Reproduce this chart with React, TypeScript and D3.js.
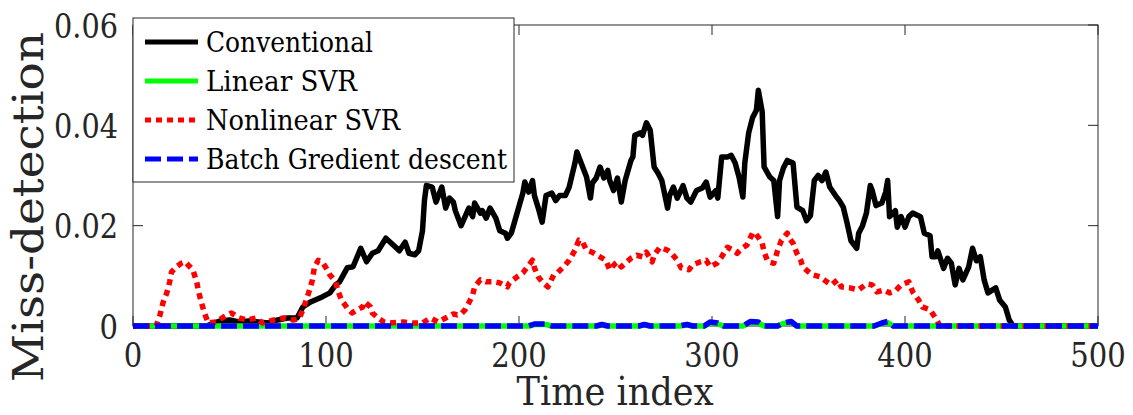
import React from "react";
import * as d3 from "d3";

type Pt = [number, number];

// Time index / miss-detection pairs
const conventional: Pt[] = [
  [0,0],[38,0],[42,0.0006],[45,0.001],[50,0.0012],[55,0.0008],[60,0.001],[65,0.0008],[70,0.0006],[75,0.0012],[80,0.0016],[85,0.0016],
  [88,0.0038],[92,0.0048],[98,0.0058],[102,0.0066],[105,0.0082],[107,0.0088],[111,0.0116],[114,0.0118],[118,0.0155],[121,0.0128],
  [124,0.0145],[127,0.015],[131,0.0175],[135,0.0161],[138,0.015],[141,0.0167],[143,0.0145],[146,0.0142],[148,0.015],[150,0.019],
  [151,0.025],[152,0.028],[155,0.0277],[157,0.0247],[160,0.0277],[162,0.0235],[164,0.0255],[166,0.0247],[167,0.023],[170,0.02],
  [174,0.0235],[176,0.0218],[177,0.0245],[180,0.0225],[181,0.023],[183,0.0215],[185,0.0235],[188,0.0215],[190,0.019],[193,0.0185],
  [194,0.0175],[196,0.0185],[199,0.0225],[202,0.0265],[203,0.0287],[205,0.0267],[207,0.029],[208,0.026],[210,0.0235],[212,0.0207],
  [214,0.026],[217,0.0265],[219,0.025],[221,0.026],[224,0.026],[226,0.0277],[229,0.0325],[230,0.0347],[233,0.0317],[235,0.0297],
  [237,0.0255],[238,0.0285],[240,0.0295],[242,0.0317],[244,0.0295],[246,0.031],[247,0.029],[249,0.027],[251,0.0295],[253,0.0247],
  [255,0.029],[258,0.033],[259,0.0337],[260,0.038],[263,0.0385],[264,0.038],[266,0.0405],[268,0.039],[270,0.0317],[272,0.0305],
  [274,0.029],[277,0.0235],[278,0.026],[280,0.0277],[282,0.0255],[285,0.028],[287,0.0255],[289,0.0247],[292,0.027],[295,0.0275],
  [297,0.0287],[299,0.0257],[302,0.027],[303,0.0255],[305,0.0337],[308,0.0337],[310,0.034],[312,0.0325],[314,0.0297],[316,0.0257],
  [317,0.0325],[319,0.0385],[321,0.0415],[323,0.043],[324,0.047],[326,0.0427],[327,0.0317],[330,0.0297],[332,0.029],[334,0.0218],
  [335,0.029],[337,0.0315],[339,0.033],[342,0.0325],[344,0.0237],[347,0.023],[349,0.021],[351,0.022],[353,0.029],[355,0.03],
  [357,0.029],[359,0.0307],[361,0.0277],[364,0.026],[366,0.025],[368,0.0237],[370,0.0205],[372,0.017],[375,0.0155],[376,0.0185],
  [378,0.02],[380,0.0225],[382,0.028],[383,0.027],[385,0.024],[388,0.0245],[390,0.0267],[391,0.029],[392,0.0218],[395,0.023],
  [396,0.0197],[398,0.0218],[400,0.0197],[402,0.0218],[404,0.0225],[408,0.0218],[410,0.0185],[413,0.018],[414,0.0138],[416,0.0138],
  [417,0.015],[420,0.0115],[422,0.0135],[424,0.0125],[426,0.0082],[428,0.0115],[430,0.0092],[433,0.0118],[435,0.0155],[437,0.013],
  [439,0.0138],[441,0.0092],[443,0.0066],[447,0.0076],[449,0.0052],[452,0.0038],[454,0.0012],[456,0],[500,0],
];

const nonlinearSVR: Pt[] = [
  [0,0],[12,0],[14,0.0022],[15.5,0.0046],[17.5,0.0066],[19,0.0088],[20,0.0108],[22.5,0.0118],[25,0.0125],[27,0.0128],[28.5,0.0122],
  [31,0.0112],[33,0.0088],[34,0.0068],[35.5,0.0046],[37,0.0026],[39,0.0006],[43,0.0008],[47,0.0018],[51,0.0026],[55,0.0016],
  [59,0.0012],[64,0.0016],[67,0.0006],[73,0.0012],[78,0.0016],[83,0.0012],[86,0.0014],[88,0.0032],[91,0.0066],[93,0.0092],
  [94,0.0118],[96,0.0131],[98.5,0.0125],[100,0.0116],[102,0.0102],[105,0.0088],[106,0.0072],[108,0.0052],[111,0.0036],[113.5,0.0026],
  [116,0.0032],[119,0.0038],[120,0.0048],[123,0.0038],[124,0.0026],[127,0.0016],[130,0.0008],[133,0.0006],[140,0.0008],[145,0.0006],
  [150,0.0006],[154,0.0016],[158,0.0008],[162,0.0016],[166,0.0024],[168,0.0022],[170,0.0024],[172,0.0032],[174,0.0046],[176,0.0062],
  [177,0.0078],[180,0.0092],[183,0.0088],[187,0.0088],[190,0.0086],[194,0.0078],[195,0.0086],[199,0.0098],[202,0.0106],[204,0.0116],
  [207,0.0131],[208,0.0116],[210,0.0098],[212,0.0088],[215,0.0078],[218,0.0102],[220,0.0106],[224,0.0122],[226,0.0131],[229,0.0151],
  [231,0.0171],[233,0.0167],[235,0.0151],[238,0.0147],[242,0.0138],[245,0.0131],[247,0.0112],[250,0.0125],[251,0.0128],[253,0.0118],
  [256,0.0128],[258,0.0135],[261,0.0141],[264,0.0138],[266,0.0147],[269,0.0128],[270,0.0141],[273,0.0157],[277,0.0151],[279,0.0145],
  [282,0.0131],[284,0.0116],[288,0.0112],[290,0.0122],[294,0.0128],[297,0.0131],[299,0.0118],[302.5,0.0125],[305,0.0138],[308,0.0157],
  [311,0.0151],[313,0.0145],[315.5,0.0155],[318,0.0161],[321,0.0185],[322,0.0187],[324,0.0177],[326,0.0165],[327,0.0147],[329,0.0128],
  [332,0.0125],[334,0.0151],[336,0.0171],[339,0.0185],[340,0.0175],[342,0.0165],[344,0.0145],[346,0.0131],[347,0.0118],[350,0.0108],
  [352,0.0102],[356,0.0098],[359.5,0.0088],[362,0.0082],[365,0.0092],[367,0.0078],[371.5,0.0076],[376,0.0072],[380,0.0084],[383,0.0082],
  [385.5,0.0068],[389,0.0072],[392,0.0066],[395,0.007],[398,0.0082],[402,0.0088],[404,0.0068],[407,0.0052],[409,0.0038],[413,0.0032],
  [416.5,0.0012],[418,0],[500,0],
];

const linearSVR: Pt[] = [
  [0,0],[205,0],[208,0.0003],[214,0.0003],[217,0],[240,0],[243,0.0002],[246,0],[262,0],[265,0.0002],[268,0],[283,0],[287,0.0002],
  [290,0],[296,0],[299,0.0006],[303,0.0004],[306,0],[316,0],[320,0.0007],[324,0.0006],[327,0],[334,0],[337,0.0005],[341,0.0007],
  [344,0],[384,0],[388,0.0005],[391,0.0007],[394,0],[500,0],
];

const batchGD: Pt[] = [
  [0,0],[205,0],[208,0.0004],[214,0.0004],[217,0],[240,0],[243,0.0003],[246,0],[262,0],[265,0.0003],[268,0],[283,0],[287,0.0003],
  [290,0],[296,0],[299,0.0008],[303,0.0006],[306,0],[316,0],[320,0.0009],[324,0.0008],[327,0],[334,0],[337,0.0006],[341,0.0009],
  [344,0],[384,0],[388,0.0006],[391,0.0009],[394,0],[500,0],
];

const xTicks = [0, 100, 200, 300, 400, 500];
const yTicks = [0, 0.02, 0.04, 0.06];
const yTickLabels = ["0", "0.02", "0.04", "0.06"];

const seriesNames = ["Conventional", "Linear SVR", "Nonlinear SVR", "Batch Gredient descent"];
const legendTextWidths = [167, 151, 194, 301];

const W = 1133, H = 415;
const FONT = "DejaVu Serif, Liberation Serif, Noto Serif, serif";
const AXIS = "#262626";

export default function App() {
  const x = d3.scaleLinear().domain([0, 500]).range([133, 1098]);
  const y = d3.scaleLinear().domain([0, 0.06]).range([326, 25]);
  const line = d3.line<Pt>().x(d => x(d[0])).y(d => y(d[1]));

  const styles = [
    { data: conventional, color: "#000000", dash: undefined as string | undefined },
    { data: linearSVR, color: "#00ff00", dash: undefined },
    { data: nonlinearSVR, color: "#ff0000", dash: "6,5" },
    { data: batchGD, color: "#0000ff", dash: "16,6" },
  ];
  const lw = 5.5;
  const [x0, x1] = x.range();
  const [y0, y1] = y.range();
  const tf = { fontFamily: FONT };

  return (
    <svg width={W} height={H} style={{ position: "absolute", left: 0, top: 0, background: "#fff" }}>
      <rect x={0} y={0} width={W} height={H} fill="#fff" />
      <rect x={x0} y={y1} width={x1 - x0} height={y0 - y1} fill="none" stroke={AXIS} strokeWidth={1} />
      {xTicks.map(t => (
        <g key={"xt" + t}>
          <line x1={x(t)} x2={x(t)} y1={y0} y2={y0 - 10} stroke={AXIS} strokeWidth={1} />
          <line x1={x(t)} x2={x(t)} y1={y1} y2={y1 + 10} stroke={AXIS} strokeWidth={1} />
          <text x={x(t)} y={367} textAnchor="middle" style={tf} fontSize={33} fill={AXIS}
            textLength={String(t).length * 18.5} lengthAdjust="spacingAndGlyphs">{t}</text>
        </g>
      ))}
      {yTicks.map((t, i) => (
        <g key={"yt" + t}>
          <line x1={x0} x2={x0 + 10} y1={y(t)} y2={y(t)} stroke={AXIS} strokeWidth={1} />
          <line x1={x1} x2={x1 - 10} y1={y(t)} y2={y(t)} stroke={AXIS} strokeWidth={1} />
          <text x={118} y={y(t) + 12.5} textAnchor="end" style={tf} fontSize={33} fill={AXIS}
            textLength={yTickLabels[i].length === 1 ? 18.5 : 64} lengthAdjust="spacingAndGlyphs">{yTickLabels[i]}</text>
        </g>
      ))}
      <text x={615} y={405} textAnchor="middle" style={tf} fontSize={40} fill={AXIS}
        textLength={197} lengthAdjust="spacingAndGlyphs">Time index</text>
      <text transform={`translate(43,207) rotate(-90)`} textAnchor="middle" style={tf} fontSize={42} fill={AXIS}
        textLength={350} lengthAdjust="spacingAndGlyphs">Miss-detection</text>

      {styles.map((s, i) => (
        <path key={"s" + i} d={line(s.data) || ""} fill="none" stroke={s.color} strokeWidth={lw}
          strokeDasharray={s.dash} strokeLinejoin="round" strokeLinecap="butt" />
      ))}

      <rect x={133} y={18} width={381} height={164} fill="#fff" stroke={AXIS} strokeWidth={1} />
      {styles.map((s, i) => {
        const ly = 42 + i * 39;
        return (
          <g key={"lg" + i}>
            <line x1={145} x2={198} y1={ly} y2={ly} stroke={s.color} strokeWidth={5} strokeDasharray={s.dash} />
            <text x={206} y={ly + 10} style={tf} fontSize={28} fill="#000"
              textLength={legendTextWidths[i]} lengthAdjust="spacingAndGlyphs">{seriesNames[i]}</text>
          </g>
        );
      })}
    </svg>
  );
}
